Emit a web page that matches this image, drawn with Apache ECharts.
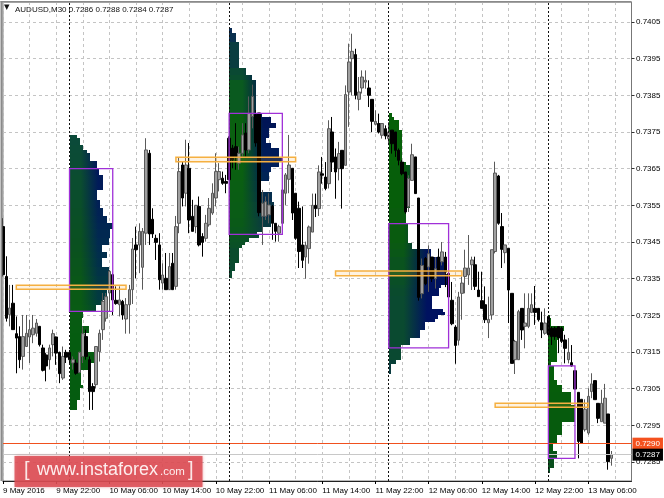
<!DOCTYPE html>
<html><head><meta charset="utf-8">
<style>html,body{margin:0;padding:0;background:#fff}#c{width:664px;height:498px}</style>
<script src="https://cdn.jsdelivr.net/npm/echarts@6/dist/echarts.min.js"></script>
</head><body><div id="c"></div>
<script>
const tickLabels=['9 May 2016','9 May 22:00','10 May 06:00','10 May 14:00','10 May 22:00','11 May 06:00','11 May 14:00','11 May 22:00','12 May 06:00','12 May 14:00','12 May 22:00','13 May 06:00'];
const priceTicks=[.7285,.7295,.7305,.7315,.7325,.7335,.7345,.7355,.7365,.7375,.7385,.7395,.7405];
const opens=[.73492,.73356,.73252,.73283,.73200,.73192,.73138,.73165,.73191,.73197,
.73201,.73220,.73161,.73142,.73129,.73170,.73191,.73149,.73079,.73149,
.73149,.73120,.73120,.73094,.73138,.73192,.73129,.73056,.73061,.73151,
.73211,.73242,.73311,.73361,.73291,.73279,.73288,.73240,.73279,.73320,
.73442,.73442,.73381,.73474,.73692,.73512,.73460,.73442,.73338,.73351,
.73320,.73392,.73329,.73501,.73660,.73583,.73651,.73520,.73492,.73547,
.73465,.73460,.73497,.73529,.73570,.73620,.73624,.73615,.73733,.73706,
.73710,.73665,.73692,.73747,.73701,.73792,.73797,.73802,.73520,.73520,
.73524,.73547,.73501,.73474,.73501,.73583,.73621,.73651,.73583,.73542,
.73442,.73409,.73432,.73477,.73550,.73541,.73636,.73627,.73609,.73750,
.73682,.73650,.73700,.73659,.73859,.73950,.73961,.73839,.73870,.73886,
.73870,.73839,.73771,.73773,.73741,.73759,.73732,.73755,.73750,.73700,
.73668,.73641,.73546,.73618,.73682,.73570,.73309,.73405,.73382,.73409,
.73350,.73409,.73396,.73409,.73364,.73291,.73218,.73182,.73310,.73356,
.73360,.73388,.73388,.73319,.73290,.73279,.73230,.73251,.73424,.73630,
.73492,.73421,.73433,.73310,.73129,.73129,.73269,.73220,.73220,.73258,
.73269,.73269,.73230,.73201,.73247,.73215,.73215,.73219,.73215,.73183,
.73129,.73121,.73099,.73040,.73021,.72938,.72929,.73042,.73072,.73010,
.72960,.72956,.72981,.72860];
const closes=[.73361,.73242,.73270,.73211,.73188,.73129,.73192,.73201,.73211,.73215,
.73229,.73170,.73100,.73112,.73161,.73200,.73147,.73091,.73138,.73136,
.73129,.73129,.73092,.73149,.73200,.73138,.73042,.73042,.73165,.73201,
.73288,.73301,.73370,.73292,.73282,.73292,.73251,.73279,.73320,.73431,
.73429,.73479,.73479,.73701,.73472,.73472,.73449,.73347,.73360,.73320,
.73383,.73320,.73492,.73642,.73570,.73660,.73510,.73479,.73550,.73442,
.73449,.73501,.73542,.73583,.73642,.73642,.73610,.73610,.73620,.73674,
.73683,.73692,.73742,.73701,.73801,.73847,.73720,.73530,.73556,.73560,
.73551,.73501,.73479,.73492,.73592,.73633,.73660,.73529,.73460,.73424,
.73400,.73441,.73491,.73550,.73541,.73641,.73632,.73596,.73759,.73668,
.73641,.73691,.73650,.73852,.73941,.73970,.73850,.73859,.73900,.73891,
.73850,.73779,.73779,.73750,.73773,.73739,.73750,.73718,.73700,.73673,
.73636,.73532,.73623,.73688,.73582,.73299,.73386,.73336,.73418,.73350,
.73377,.73373,.73423,.73368,.73300,.73227,.73168,.73300,.73338,.73379,
.73379,.73401,.73329,.73301,.73269,.73238,.73239,.73429,.73638,.73501,
.73430,.73442,.73319,.73119,.73179,.73260,.73210,.73229,.73269,.73279,
.73258,.73238,.73210,.73229,.73197,.73192,.73192,.73188,.73179,.73160,
.73149,.73112,.73049,.72906,.72901,.72994,.73029,.73063,.73020,.72969,
.73010,.73024,.72851,.72870];
const highs=[.73515,.73411,.73333,.73333,.73247,.73220,.73251,.73251,.73238,.73251,
.73240,.73220,.73170,.73147,.73170,.73211,.73192,.73151,.73165,.73156,
.73156,.73138,.73129,.73151,.73220,.73211,.73138,.73065,.73165,.73211,
.73311,.73311,.73374,.73365,.73329,.73329,.73292,.73297,.73333,.73461,
.73492,.73501,.73488,.73733,.73701,.73542,.73470,.73474,.73392,.73420,
.73420,.73420,.73521,.73679,.73670,.73729,.73720,.73565,.73551,.73574,
.73474,.73524,.73570,.73610,.73692,.73665,.73642,.73633,.73738,.73715,
.73774,.73710,.73774,.73774,.73847,.73879,.73810,.73802,.73592,.73574,
.73583,.73551,.73501,.73497,.73597,.73638,.73742,.73651,.73583,.73560,
.73547,.73451,.73495,.73582,.73582,.73659,.73682,.73668,.73782,.73791,
.73705,.73723,.73700,.73877,.73991,.74018,.73977,.73900,.73918,.73918,
.73891,.73839,.73809,.73800,.73773,.73768,.73777,.73755,.73750,.73705,
.73673,.73641,.73632,.73718,.73682,.73570,.73405,.73409,.73441,.73409,
.73409,.73432,.73450,.73423,.73364,.73341,.73223,.73314,.73356,.73429,
.73469,.73410,.73410,.73369,.73369,.73329,.73301,.73429,.73669,.73633,
.73529,.73442,.73433,.73310,.73183,.73265,.73269,.73310,.73310,.73310,
.73330,.73269,.73260,.73269,.73251,.73219,.73219,.73219,.73219,.73197,
.73188,.73169,.73099,.73040,.73021,.73021,.73051,.73092,.73072,.73010,
.73047,.73063,.72981,.72880];
const lows=[.73356,.73233,.73220,.73211,.73092,.73106,.73102,.73165,.73120,.73174,
.73192,.73165,.73097,.73070,.73102,.73138,.73115,.73065,.73074,.73120,
.73120,.73102,.73088,.73092,.73120,.73129,.72992,.72992,.73051,.73124,
.73183,.73233,.73261,.73251,.73279,.73247,.73238,.73200,.73200,.73281,
.73351,.73365,.73320,.73442,.73442,.73461,.73401,.73320,.73320,.73320,
.73320,.73320,.73320,.73474,.73547,.73547,.73474,.73479,.73474,.73438,
.73410,.73451,.73492,.73524,.73547,.73588,.73606,.73583,.73620,.73651,
.73647,.73647,.73683,.73683,.73692,.73760,.73710,.73520,.73442,.73510,
.73501,.73456,.73451,.73451,.73497,.73551,.73583,.73510,.73456,.73379,
.73379,.73350,.73391,.73477,.73518,.73521,.73609,.73591,.73596,.73641,
.73568,.73618,.73541,.73659,.73764,.73850,.73839,.73809,.73855,.73868,
.73818,.73750,.73768,.73746,.73732,.73730,.73714,.73691,.73682,.73659,
.73632,.73527,.73532,.73618,.73582,.73290,.73296,.73332,.73314,.73341,
.73323,.73368,.73386,.73327,.73300,.73223,.73118,.73168,.73238,.73310,
.73333,.73319,.73319,.73301,.73269,.73229,.73188,.73238,.73419,.73497,
.73379,.73392,.73229,.73119,.73090,.73129,.73183,.73160,.73215,.73256,
.73224,.73233,.73188,.73197,.73192,.73169,.73183,.73147,.73174,.73119,
.73119,.73110,.73049,.72860,.72901,.72933,.72924,.73024,.73020,.72956,
.72960,.72956,.72829,.72840];

const separators=[20,68,116,164];
const p1Levels=[.73742,.73733,.73715,.73701,.73692,.73672,.73651,.73633,.73592,.73565,.73542,.73521,.73501,.73485,.73461,.73442,.73424,.73406,.73381,.73356,.73320,.73292,.73279,.73261,.73242,.73220,.73201,.73174,.73151,.73120,.73101,.73061,.73051,.73020,.72992];
const p1Lengths=[2,3,4,5,6,8,8.8,9.8,8,9,9.8,11,13,12,11.7,9.7,11,9.7,11.7,12.7,11.2,9.7,7.7,4,3.7,5.7,3.7,4,7.7,5.7,3.2,4,3,2];
const p2Levels=[.74033,.74019,.73996,.73924,.73905,.73892,.73801,.73792,.73774,.73760,.73733,.73719,.73705,.73683,.73669,.73655,.73642,.73615,.73587,.73560,.73515,.73492,.73478,.73470,.73460,.73451,.73442,.73433,.73392,.73370,.73351];
const p2Lengths=[1,2,3,5,7,8,10,12.5,14,12,11,12.5,15,16,15,12.5,12,9.5,13,13.5,12.5,10,8.5,8.9,5.9,4.9,3.9,2.9,1.9,.9];
const p3Levels=[.73801,.73791,.73782,.73755,.73669,.73660,.73542,.73500,.73446,.73430,.73409,.73364,.73332,.73325,.73302,.73268,.73259,.73250,.73241,.73232,.73209,.73189,.73168,.73127,.73118,.73091];
const p3Lengths=[.8,1.6,2.9,3.9,5,6.2,5,5.8,6.8,12.6,17,17.6,15.5,15,13,16.2,16.7,14.7,13.7,10.7,9.2,6.2,3.7,2.2,.7];
const p4Levels=[.73251,.73242,.73222,.73206,.73183,.73124,.73112,.73074,.73060,.73042,.73006,.72960,.72924,.72901,.72879,.72860,.72833,.72820];
const p4Lengths=[.6,1,4.8,3.3,2.8,.8,1.8,2.8,4.3,6.8,8,4.3,2.8,1.6,2.8,1.8,.6];
const p1Tints=[[.7374,'#0b4a3a','#010f60'],[.7345,'#0a5020','#012a50'],[.7330,'#0a5a15','#023a40'],[.7320,'#055c10','#055c10'],[.7299,'#055c10','#055c10']];
const p2Tints=[[.7403,'#0a2a55','#001255'],[.7385,'#0a5a20','#001255'],[.7380,'#0a6010','#001255'],[.7365,'#0a6010','#00205a'],[.7350,'#0a5a18','#0a3a40'],[.7340,'#0a4a30','#0a4a30']];
const p3Tints=[[.7380,'#056008','#056008'],[.7367,'#056008','#056008'],[.7366,'#056008','#10305a'],[.7345,'#0a5a10','#00155a'],[.7330,'#0a4a30','#001260'],[.7315,'#0a4a30','#001260'],[.7310,'#0b3a40','#0a2a50']];
const p4Tints=[[.7325,'#056008','#056008'],[.7290,'#065a0e','#065a0e'],[.7282,'#0a4a25','#0a4a25']];
const valueBoxes=[[20,33,.7365,.73261],[68,84,.73801,.73471],[116,134,.73500,.73161],[164,172,.73112,.72860]];
const pocBands=[[4,37,.73332,.73321],[52,88,.73681,.73669],[100,138,.73371,.73358],[148,176,.73010,.72999]];
const alertPrice=.7290, lastPrice=.7287;

const barCount=190;
const categories=Array.from({length:barCount},(_,i)=>i%16===0?(tickLabels[i/16]||''):'');
const candles=opens.map((o,i)=>[o,closes[i],lows[i],highs[i]]);
const rgb=c=>c[0]==='#'?[1,3,5].map(k=>parseInt(c.substr(k,2),16)):c.match(/\d+/g).map(Number);
const mix=(a,b,t)=>{const A=rgb(a),B=rgb(b);return 'rgb('+A.map((v,k)=>Math.round(v+(B[k]-v)*t)).join(',')+')';};
function tint(tints,p){
  if(p>=tints[0][0])return [tints[0][1],tints[0][2]];
  for(let k=1;k<tints.length;k++){
    if(p>=tints[k][0]){const a=tints[k-1],b=tints[k],t=(a[0]-p)/(a[0]-b[0]);return [mix(a[1],b[1],t),mix(a[2],b[2],t)];}
  }
  const l=tints[tints.length-1];return [l[1],l[2]];
}
const profileRows=[];
[[p1Levels,p1Lengths,p1Tints],[p2Levels,p2Lengths,p2Tints],[p3Levels,p3Lengths,p3Tints],[p4Levels,p4Lengths,p4Tints]].forEach((pr,n)=>{
  const maxLen=Math.max(...pr[1]);
  pr[1].forEach((len,k)=>{
    profileRows.push({value:[separators[n],pr[0][k],pr[0][k+1],len],tintSet:pr[2],maxLen});
  });
});
const chart=echarts.init(document.getElementById('c'),null,{renderer:'canvas'});
chart.setOption({
  animation:false,
  backgroundColor:'#fff',
  title:{text:'▾',left:4,top:2,padding:0,textStyle:{fontSize:11,fontWeight:'normal',color:'#111',fontFamily:'DejaVu Sans'}},
  grid:{left:2.67,right:32.5,top:2,bottom:17,show:true,borderColor:'#777',borderWidth:1,backgroundColor:'#fff'},
  xAxis:{type:'category',data:categories,boundaryGap:false,
    axisLine:{show:true,lineStyle:{color:'#222'}},
    axisTick:{show:true,interval:15,length:3,lineStyle:{color:'#000'}},
    axisLabel:{show:true,interval:15,align:'left',margin:6,fontSize:8,color:'#000',fontFamily:'Liberation Sans',hideOverlap:false},
    splitLine:{show:true,interval:7,lineStyle:{color:'#c4c4c4',type:[3,3],width:1}}},
  yAxis:{type:'value',position:'right',min:.727982,max:.741045,scale:true,
    axisLine:{show:false},
    axisTick:{show:true,length:3,customValues:priceTicks,lineStyle:{color:'#333'}},
    axisLabel:{show:true,margin:4.5,fontSize:8,color:'#000',fontFamily:'Liberation Sans',customValues:priceTicks,formatter:v=>v.toFixed(4)},
    splitLine:{show:true,lineStyle:{color:'#c4c4c4',type:[3,3],width:1}}},
  graphic:[
    {type:'rect',left:0.5,top:1,z:90,shape:{width:2,height:480},style:{fill:'#8a8a8a'}},
    {type:'rect',left:0.5,top:1,z:90,shape:{width:631,height:1.5},style:{fill:'#8a8a8a'}},
    {type:'text',left:15,top:6,z:100,style:{text:'AUDUSD,M30 0.7286 0.7288 0.7284 0.7287',fontSize:8,fill:'#111',fontFamily:'Liberation Sans'}},
    {type:'rect',left:14.5,top:456,z:200,shape:{width:188,height:31},style:{fill:'rgba(219,76,84,0.84)',shadowBlur:3,shadowColor:'rgba(214,62,72,0.6)'}},
    {type:'text',left:24,top:460,z:201,style:{text:'[',fontSize:20,fill:'#fbe6e6',fontFamily:'Liberation Sans'}},
    {type:'text',left:37,top:461,z:201,style:{text:'www.instaforex',fontSize:18,fill:'#fdeeee',fontFamily:'Liberation Sans'}},
    {type:'text',left:160,top:466,z:201,style:{text:'.com',fontSize:11.5,fill:'#fdeeee',fontFamily:'Liberation Sans'}},
    {type:'text',left:188,top:460,z:201,style:{text:']',fontSize:20,fill:'#fbe6e6',fontFamily:'Liberation Sans'}}
  ],
  series:[
   {type:'custom',z:2,coordinateSystem:'cartesian2d',silent:true,clip:true,encode:{x:0,y:[1,2]},data:profileRows,
    renderItem(params,api){
      const row=profileRows[params.dataIndex];
      const s=api.value(0),t=api.value(1),b=api.value(2),len=api.value(3);
      const a=api.coord([s,t]),c=api.coord([s,b]),unit=api.coord([s+1,t])[0]-a[0];
      const w=Math.round(len*unit),plateau=.25*row.maxLen*unit,reach=.65*row.maxLen*unit;
      const [L,R]=tint(row.tintSet,(t+b)/2);
      const stops=[{offset:0,color:L}];
      if(w>plateau){
        stops.push({offset:plateau/w,color:L});
        if(w>reach){stops.push({offset:reach/w,color:R});stops.push({offset:1,color:R});}
        else stops.push({offset:1,color:mix(L,R,(w-plateau)/(reach-plateau))});
      } else stops.push({offset:1,color:L});
      const y0=Math.round(a[1]),y1=Math.round(c[1]);
      return {type:'rect',shape:{x:Math.round(a[0]),y:y0,width:w,height:y1-y0},
        style:{fill:new echarts.graphic.LinearGradient(0,0,1,0,stops)}};
    }},
   {type:'candlestick',z:3,silent:true,data:candles,barWidth:3,
    itemStyle:{color:'#a0a0a0',color0:'#000',borderColor:'#5a5a5a',borderColor0:'#000',borderWidth:1},
    markLine:{silent:true,symbol:'none',animation:false,precision:4,z:4,
      data:[
       {yAxis:alertPrice,lineStyle:{color:'#f0501e',type:'solid',width:1},label:{show:true,position:'end',distance:1,formatter:()=>alertPrice.toFixed(4),color:'#fff',backgroundColor:'#f4511e',fontSize:8,fontFamily:'Liberation Sans',padding:[2,3,2,3]}},
       {yAxis:lastPrice,lineStyle:{color:'#c8c8c8',type:'solid',width:1},label:{show:true,position:'end',distance:1,formatter:()=>lastPrice.toFixed(4),color:'#fff',backgroundColor:'#000',fontSize:8,fontFamily:'Liberation Sans',padding:[2,3,2,3]}}
      ].concat(separators.map(i=>({xAxis:i,lineStyle:{color:'#111',type:[2,2],width:1},label:{show:false}})))}},
   {type:'custom',z:5,silent:true,clip:true,encode:{x:[0,1],y:[2,3]},data:valueBoxes,
    renderItem(params,api){
      const a=api.coord([api.value(0),api.value(2)]),c=api.coord([api.value(1),api.value(3)]);
      return {type:'rect',shape:{x:a[0],y:a[1],width:c[0]-a[0],height:c[1]-a[1]},style:{fill:'none',stroke:'#a030d8',lineWidth:1.3}};
    }},
   {type:'custom',z:6,silent:true,clip:true,encode:{x:[0,1],y:[2,3]},data:pocBands,
    renderItem(params,api){
      const a=api.coord([api.value(0),api.value(2)]),c=api.coord([api.value(1),api.value(3)]);
      return {type:'rect',shape:{x:a[0],y:a[1],width:c[0]-a[0],height:c[1]-a[1]},style:{fill:'rgba(245,170,50,0.15)',stroke:'#f5b041',lineWidth:1.5}};
    }}
  ]
});
</script></body></html>
